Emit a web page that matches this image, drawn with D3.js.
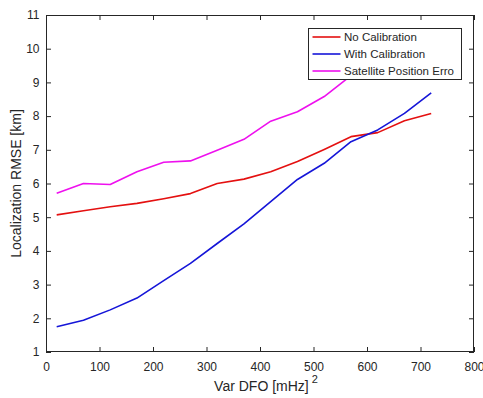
<!DOCTYPE html>
<html><head><meta charset="utf-8">
<script src="https://cdn.jsdelivr.net/npm/d3@7"></script>
<style>body{margin:0;background:#fff}svg{display:block}text{font-family:"Liberation Sans",Arial,sans-serif;fill:#262626}</style>
</head><body><svg id="c" width="483" height="398"></svg>
<script>
const xVals = [20,70,120,170,220,270,320,370,420,470,520,570,620,670,720];
const noCal = [5.07,5.19,5.31,5.41,5.55,5.70,6.00,6.13,6.35,6.65,7.01,7.39,7.51,7.86,8.08];
const withCal = [1.75,1.94,2.25,2.60,3.12,3.63,4.22,4.80,5.46,6.12,6.60,7.24,7.59,8.08,8.69];
const satErr = [5.71,6.00,5.97,6.35,6.63,6.67,6.99,7.31,7.85,8.13,8.58,9.2];
const seriesNames = ["No Calibration","With Calibration","Satellite Position Erro"];
const seriesColors = ["#e41010","#1515d8","#ee10ee"];
const xTicks = [0,100,200,300,400,500,600,700,800];
const yTicks = [1,2,3,4,5,6,7,8,9,10,11];

const svg = d3.select("#c");
const L=46,R=474,T=15,B=352;
const x = d3.scaleLinear().domain([0,800]).range([L,R]);
const y = d3.scaleLinear().domain([1,11]).range([B,T]);
const axisCol="#262626";

svg.append("defs").append("clipPath").attr("id","pc").append("rect")
  .attr("x",L).attr("y",T).attr("width",R-L).attr("height",B-T);

const series=[noCal,withCal,satErr];
const line=d3.line().x((d,i)=>x(xVals[i])).y(d=>y(d));
const g=svg.append("g").attr("clip-path","url(#pc)");
series.forEach((s,k)=>{
  g.append("path").datum(s).attr("d",line).attr("fill","none")
   .attr("stroke",seriesColors[k]).attr("stroke-width",1.6).attr("stroke-linejoin","round");
});

function styleAxis(sel){
  sel.select(".domain").remove();
  sel.selectAll(".tick line").attr("stroke",axisCol).attr("stroke-width",1);
  sel.selectAll(".tick text").attr("fill",axisCol).style("font-size","12px");
}
svg.append("g").attr("transform",`translate(0,${B})`)
  .call(d3.axisBottom(x).tickValues(xTicks).tickSize(-5).tickPadding(10.5).tickFormat(d3.format("d")))
  .call(styleAxis);
svg.append("g").attr("transform",`translate(0,${T})`)
  .call(d3.axisTop(x).tickValues(xTicks).tickSize(-5).tickFormat(""))
  .call(styleAxis);
svg.append("g").attr("transform",`translate(${L},0)`)
  .call(d3.axisLeft(y).tickValues(yTicks).tickSize(-5).tickPadding(6.5).tickFormat(d3.format("d")))
  .call(styleAxis);
svg.append("g").attr("transform",`translate(${R},0)`)
  .call(d3.axisRight(y).tickValues(yTicks).tickSize(-5).tickFormat(""))
  .call(styleAxis);
svg.append("rect").attr("x",L+0.5).attr("y",T+0.5).attr("width",R-L-1).attr("height",B-T-1)
  .attr("fill","none").attr("stroke",axisCol).attr("stroke-width",1);

// axis labels
const xl=svg.append("text").attr("x",(L+R)/2+6).attr("y",391).attr("text-anchor","middle").style("font-size","14px");
xl.append("tspan").text("Var DFO [mHz]");
xl.append("tspan").attr("dx",3).attr("dy",-8).style("font-size","11px").text("2");
svg.append("text").attr("transform",`translate(20.5,${(T+B)/2}) rotate(-90)`).attr("text-anchor","middle")
  .style("font-size","14px").text("Localization RMSE [km]");

// legend
const lg=svg.append("g");
lg.append("rect").attr("x",308.5).attr("y",28.5).attr("width",153).attr("height",51)
  .attr("fill","#fff").attr("stroke",axisCol).attr("stroke-width",1);
seriesNames.forEach((n,k)=>{
  const yy=37+k*17;
  lg.append("line").attr("x1",312.5).attr("x2",340.5).attr("y1",yy).attr("y2",yy)
    .attr("stroke",seriesColors[k]).attr("stroke-width",1.6);
  lg.append("text").attr("x",344).attr("y",yy).attr("dy","0.35em").style("font-size","11.5px").text(n);
});
</script></body></html>
